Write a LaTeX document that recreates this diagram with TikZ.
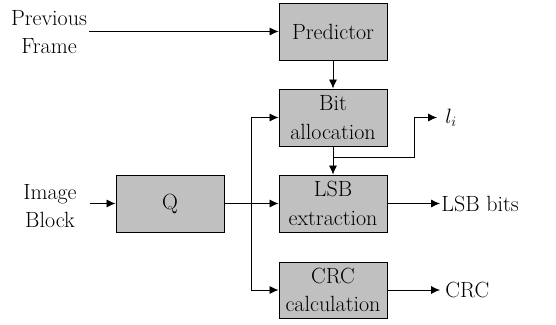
\documentclass[tikz,border=0pt]{standalone}
\usetikzlibrary{arrows.meta}
\definecolor{boxgray}{RGB}{192,192,192}

\tikzset{
  block/.style={draw, fill=boxgray, line width=0.9pt, minimum width=108pt, minimum height=57pt, align=center, inner sep=1pt},
  lbl/.style={align=center, inner sep=1pt, minimum width=80pt},
  outlbl/.style={anchor=west, inner sep=1pt},
  >={Latex[length=9pt,width=8pt]}
}

\begin{document}
\begin{tikzpicture}[x=1pt,y=-1pt,line width=0.8pt,font=\fontsize{22}{28.5}\selectfont]

\useasboundingbox (0,0) rectangle (556,324);

\node[block] (pred) at (333,31.5) {Predictor};
\node[block] (bit) at (333,117.5) {Bit\\allocation};
\node[block] (lsb) at (333,203.5) {LSB\\extraction};
\node[block, minimum height=56pt] (crc) at (333,290) {CRC\\calculation};
\node[block] (q) at (170,203.5) {Q};

\node[lbl] (prev) at (49,32) {Previous\\Frame};
\node[lbl] (img) at (50,206) {Image\\Block};

\node[outlbl] (lsbout) at (440,203.5) {LSB bits};
\node[outlbl, inner sep=5pt] (crcout) at (440,290) {CRC};
\node[outlbl, inner sep=8pt] (li) at (437,117.5) {$l_i$};

\coordinate (tap) at (333,157);
\coordinate (bend) at (414,117.5);
\coordinate (split) at (251,203.5);

\draw[->] (prev.east |- pred.west) -- (pred.west);
\draw[->] (pred) -- (bit);
\draw[->] (bit) -- (lsb);
\draw[->] (tap) -| (bend) -- (li.west);

\draw[->] (img.east |- q.west) -- (q.west);
\draw[->] (q) -- (lsb);
\draw[->] (split) |- (bit.west);
\draw[->] (split) |- (crc.west);

\draw[->] (lsb) -- (lsbout);
\draw[->] (crc) -- (crcout);

\end{tikzpicture}
\end{document}
